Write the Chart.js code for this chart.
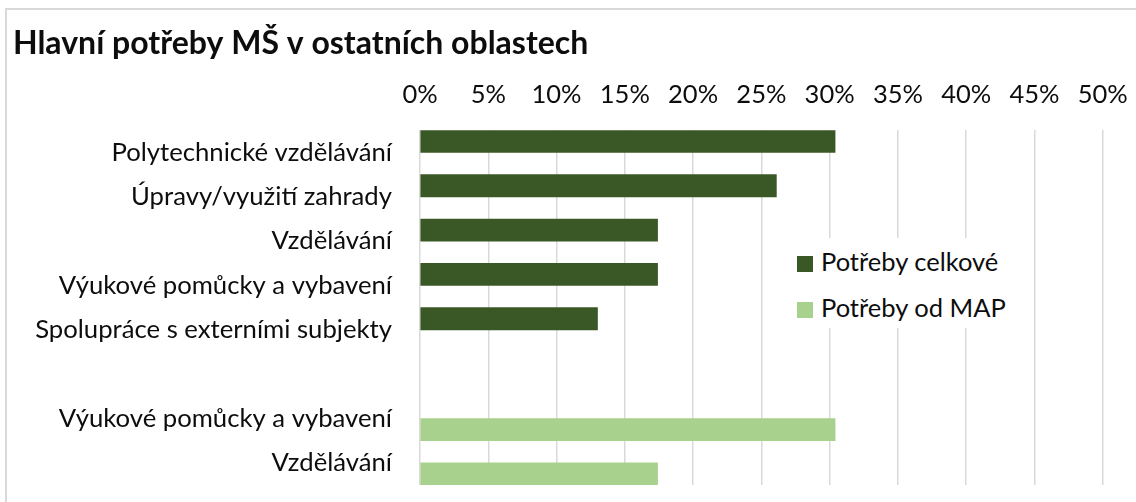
<!DOCTYPE html>
<html lang="cs">
<head>
<meta charset="utf-8">
<title>Hlavní potřeby MŠ v ostatních oblastech</title>
<script src="https://cdn.jsdelivr.net/npm/chart.js@4"></script>
<style>
  html, body { margin: 0; padding: 0; background: #fff; overflow: hidden; }
  #wrap { position: relative; width: 1136px; height: 502px; overflow: hidden; }
  #frame { position: absolute; left: 5px; top: 8px; width: 1200px; height: 600px; border: 2px solid #d9d9d9; box-sizing: border-box; }
  #needsChart { position: absolute; left: 0; top: 0; }
  #legend { position: absolute; left: 790px; top: 238px; width: 218px; height: 90px; background: #fff;
            font-family: Lato, sans-serif; font-size: 25.5px; color: #0d0d0d; }
  .item { position: absolute; left: 7px; height: 26px; line-height: 26px; white-space: nowrap; }
  .item span.box { display: inline-block; width: 16px; height: 16px; vertical-align: -1px; margin-right: 8px; }
</style>
</head>
<body>
<div id="wrap">
  <div id="frame"></div>
  <canvas id="needsChart" width="1136" height="502"></canvas>
  <div id="legend"></div>
</div>
<script>
// kategorie na svislé ose (prázdná položka = mezera mezi skupinami)
const categories = [
  'Polytechnické vzdělávání',
  'Úpravy/využití zahrady',
  'Vzdělávání',
  'Výukové pomůcky a vybavení',
  'Spolupráce s externími subjekty',
  '',
  'Výukové pomůcky a vybavení',
  'Vzdělávání'
];

// hodnoty v %
const potrebyCelkove = [30.4, 26.1, 17.4, 17.4, 13.0, null, null, null];
const potrebyOdMAP   = [null, null, null, null, null, null, 30.4, 17.4];

const seriesNames = ['Potřeby celkové', 'Potřeby od MAP'];
const seriesColors = ['#3a5826', '#a9d18e'];

// osa x: 0 % až 50 % po 5 %
const xMin = 0, xMax = 50, xStep = 5;

const ctx = document.getElementById('needsChart').getContext('2d');

const needsChart = new Chart(ctx, {
    type: 'bar',
    data: {
        labels: categories,
        datasets: [
            { label: seriesNames[0], data: potrebyCelkove, backgroundColor: seriesColors[0] },
            { label: seriesNames[1], data: potrebyOdMAP, backgroundColor: seriesColors[1] }
        ]
    },
    options: {
        indexAxis: 'y',
        responsive: false,
        devicePixelRatio: 1,
        animation: false,
        categoryPercentage: 1.0,
        barPercentage: 1.0,
        layout: { padding: { left: 13, right: 33.3, top: 0, bottom: 17 } },
        scales: {
            x: {
                position: 'top',
                min: xMin,
                max: xMax,
                ticks: {
                    stepSize: xStep,
                    padding: 20.2,
                    color: '#0d0d0d',
                    font: { family: 'Lato', size: 25.5 },
                    callback: v => v + '%'
                },
                grid: { color: '#d9d9d9', lineWidth: 1.5, drawTicks: false },
                border: { display: false },
                // pevná výška osy, popisky nesmí zmenšovat plochu grafu
                afterFit: s => { s.height = 67.4; s.paddingLeft = 0; s.paddingRight = 0; }
            },
            y: {
                ticks: {
                    padding: 28,
                    color: '#0d0d0d',
                    font: { family: 'Lato', size: 25.7 },
                    autoSkip: false
                },
                grid: { display: false, drawTicks: false },
                border: { display: false },
                // pevná šířka osy, bez svislého odsazení od popisků
                afterFit: s => { s.width = 407; s.paddingTop = 0; s.paddingBottom = 0; }
            }
        },
        plugins: {
            legend: { display: false },
            tooltip: { enabled: false },
            title: {
                display: true,
                text: 'Hlavní potřeby MŠ v ostatních oblastech',
                align: 'start',
                color: '#0d0d0d',
                font: { family: 'Lato', size: 32, weight: 'bold' },
                padding: { top: 24.5, bottom: 0 }
            }
        }
    }
});

// legenda uvnitř plochy grafu (jako v Excelu)
const legend = document.getElementById('legend');
needsChart.data.datasets.forEach((ds, i) => {
    legend.innerHTML += `
        <div class="item" style="top:${10 + i * 46}px">
            <span class="box" style="background:${ds.backgroundColor}"></span>${ds.label}
        </div>
    `;
});
</script>
</body>
</html>
